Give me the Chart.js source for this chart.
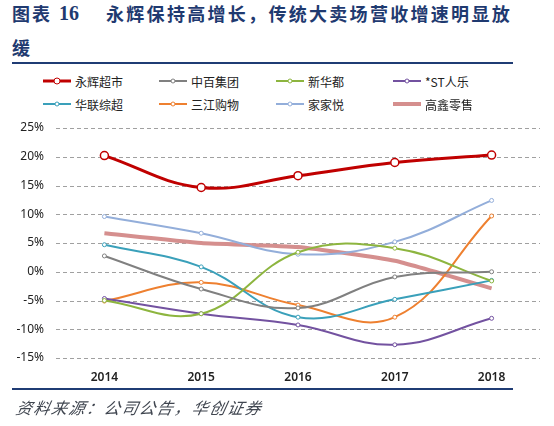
<!DOCTYPE html>
<html><head><meta charset="utf-8">
<script src="https://cdn.jsdelivr.net/npm/chart.js@4.4.1/dist/chart.umd.min.js"></script>
<style>
html,body{margin:0;padding:0;background:#fff;}
body{width:554px;height:426px;position:relative;overflow:hidden;font-family:"Noto Sans CJK SC","DejaVu Sans",sans-serif;}
.t{position:absolute;color:#1F3A70;font-weight:700;font-size:18px;line-height:20px;white-space:nowrap;font-family:"Noto Sans CJK SC",sans-serif;}
.rule{position:absolute;left:12px;width:501px;height:2px;background:#1F3C74;}
#legend{position:absolute;left:0;top:70px;width:554px;height:46px;}
.li{position:absolute;height:16px;display:flex;align-items:center;font-size:12px;color:#222;}
.li canvas{margin-right:2px;}
#src{position:absolute;left:14px;top:395px;font-size:16px;font-style:italic;color:#404650;letter-spacing:1.6px;white-space:nowrap;font-family:"Noto Sans CJK SC",sans-serif;transform:skewX(-12deg);transform-origin:left bottom;}
#c{position:absolute;left:0;top:0;}
</style></head><body>
<div class="t" style="left:12px;top:3px;letter-spacing:2px;">图表</div>
<div class="t" style="left:59px;top:3px;font-family:'Liberation Serif',serif;font-size:20px;">16</div>
<div class="t" style="left:106px;top:3px;letter-spacing:2.3px;">永辉保持高增长，传统大卖场营收增速明显放</div>
<div class="t" style="left:12px;top:37px;">缓</div>
<div class="rule" style="top:62px;"></div>
<div id="legend"></div>
<div style="position:absolute;left:0;top:0;width:554px;height:426px;"><canvas id="c" width="554" height="426"></canvas></div>
<div class="rule" style="top:388px;"></div>
<div id="src">资料来源：公司公告，华创证券</div>
<script>
const years = ['2014','2015','2016','2017','2018'];
const seriesNames = ['永辉超市','中百集团','新华都','*ST人乐','华联综超','三江购物','家家悦','高鑫零售'];
const yonghui = [20.2, 14.65, 16.7, 19.0, 20.3];
const zhongbai = [2.75, -3.0, -6.3, -0.9, 0.0];
const xinhuadu = [-5.0, -7.3, 3.4, 4.1, -1.6];
const stRenle = [-4.65, -7.3, -9.25, -12.7, -8.1];
const hualian = [4.7, 0.85, -7.9, -4.8, -1.5];
const sanjiang = [-5.1, -1.85, -5.8, -7.9, 9.7];
const jiajiayue = [9.6, 6.7, 3.05, 5.2, 12.4];
const gaoxin = [6.7, 5.0, 4.3, 1.9, -2.9];
const yTicks = [-15,-10,-5,0,5,10,15,20,25];

const values = [yonghui, zhongbai, xinhuadu, stRenle, hualian, sanjiang, jiajiayue, gaoxin];
const colors = ['#C00000','#808080','#8DB53F','#7352A0','#3AA0BA','#EE8030','#93AEDA','#D58F8E'];
const widths = [3,2,2,2,2,2,2,4];
const radii = [4,2,2,2,2,2,2,0];
const tensions = [0.4,0.4,0.4,0.4,0.4,0.4,0.4,0.15];

const datasets = seriesNames.map((n,i)=>({
  label:n, data:values[i], borderColor:colors[i], backgroundColor:'#fff',
  borderWidth:widths[i], pointRadius:radii[i], pointBorderWidth:i===0?1.5:1,
  pointBackgroundColor:'#fff', pointBorderColor:colors[i], tension:tensions[i],
  fill:false, clip:false
}));

// legend
const cols=[43,159,276,393], rows=[73,96];
const lg=document.getElementById('legend');
seriesNames.forEach((n,i)=>{
  const d=document.createElement('div'); d.className='li';
  d.style.left=cols[i%4]+'px'; d.style.top=(rows[Math.floor(i/4)]-70)+'px';
  const cv=document.createElement('canvas'); cv.width=30; cv.height=14;
  const g=cv.getContext('2d');
  g.strokeStyle=colors[i]; g.lineWidth=widths[i]; g.beginPath(); g.moveTo(0,7); g.lineTo(28,7); g.stroke();
  if(radii[i]>0){ g.fillStyle='#fff'; g.lineWidth=1; g.beginPath(); g.arc(14,7,i===0?3:2,0,Math.PI*2); g.fill(); g.stroke(); }
  d.appendChild(cv);
  const s=document.createElement('span'); s.textContent=n; d.appendChild(s);
  lg.appendChild(d);
});

const dashedGrid = {
  id:'dashedGrid',
  beforeDatasetsDraw(chart){
    const {ctx, chartArea, scales:{y}} = chart;
    ctx.save();
    ctx.strokeStyle='#A0A0A0'; ctx.lineWidth=1; ctx.setLineDash([4,3]);
    y.ticks.forEach(t=>{
      const py=Math.round(y.getPixelForValue(t.value))+0.5;
      ctx.beginPath(); ctx.moveTo(chartArea.left,py); ctx.lineTo(chartArea.right,py); ctx.stroke();
    });
    ctx.restore();
  }
};

new Chart(document.getElementById('c'),{
  type:'line',
  data:{labels:years, datasets},
  plugins:[dashedGrid],
  options:{
    responsive:false, animation:false, devicePixelRatio:1,
    layout:{padding:{top:128,left:0,right:14,bottom:0}},
    plugins:{legend:{display:false},tooltip:{enabled:false}},
    scales:{
      x:{offset:true, grid:{display:false,drawTicks:false}, border:{display:false},
         ticks:{padding:12,color:'#222',font:{family:'Noto Sans',size:12,weight:'600'}},
         afterFit:(s)=>{s.height=68;}},
      y:{min:-15,max:25, grid:{display:false,drawTicks:false}, border:{display:false},
         afterBuildTicks:(s)=>{s.ticks=yTicks.map(v=>({value:v}));},
         ticks:{padding:12,color:'#222',font:{family:'Noto Sans',size:12},callback:(v)=>v+'%'},
         afterFit:(s)=>{s.width=56;}}
    }
  }
});
</script>
</body></html>
